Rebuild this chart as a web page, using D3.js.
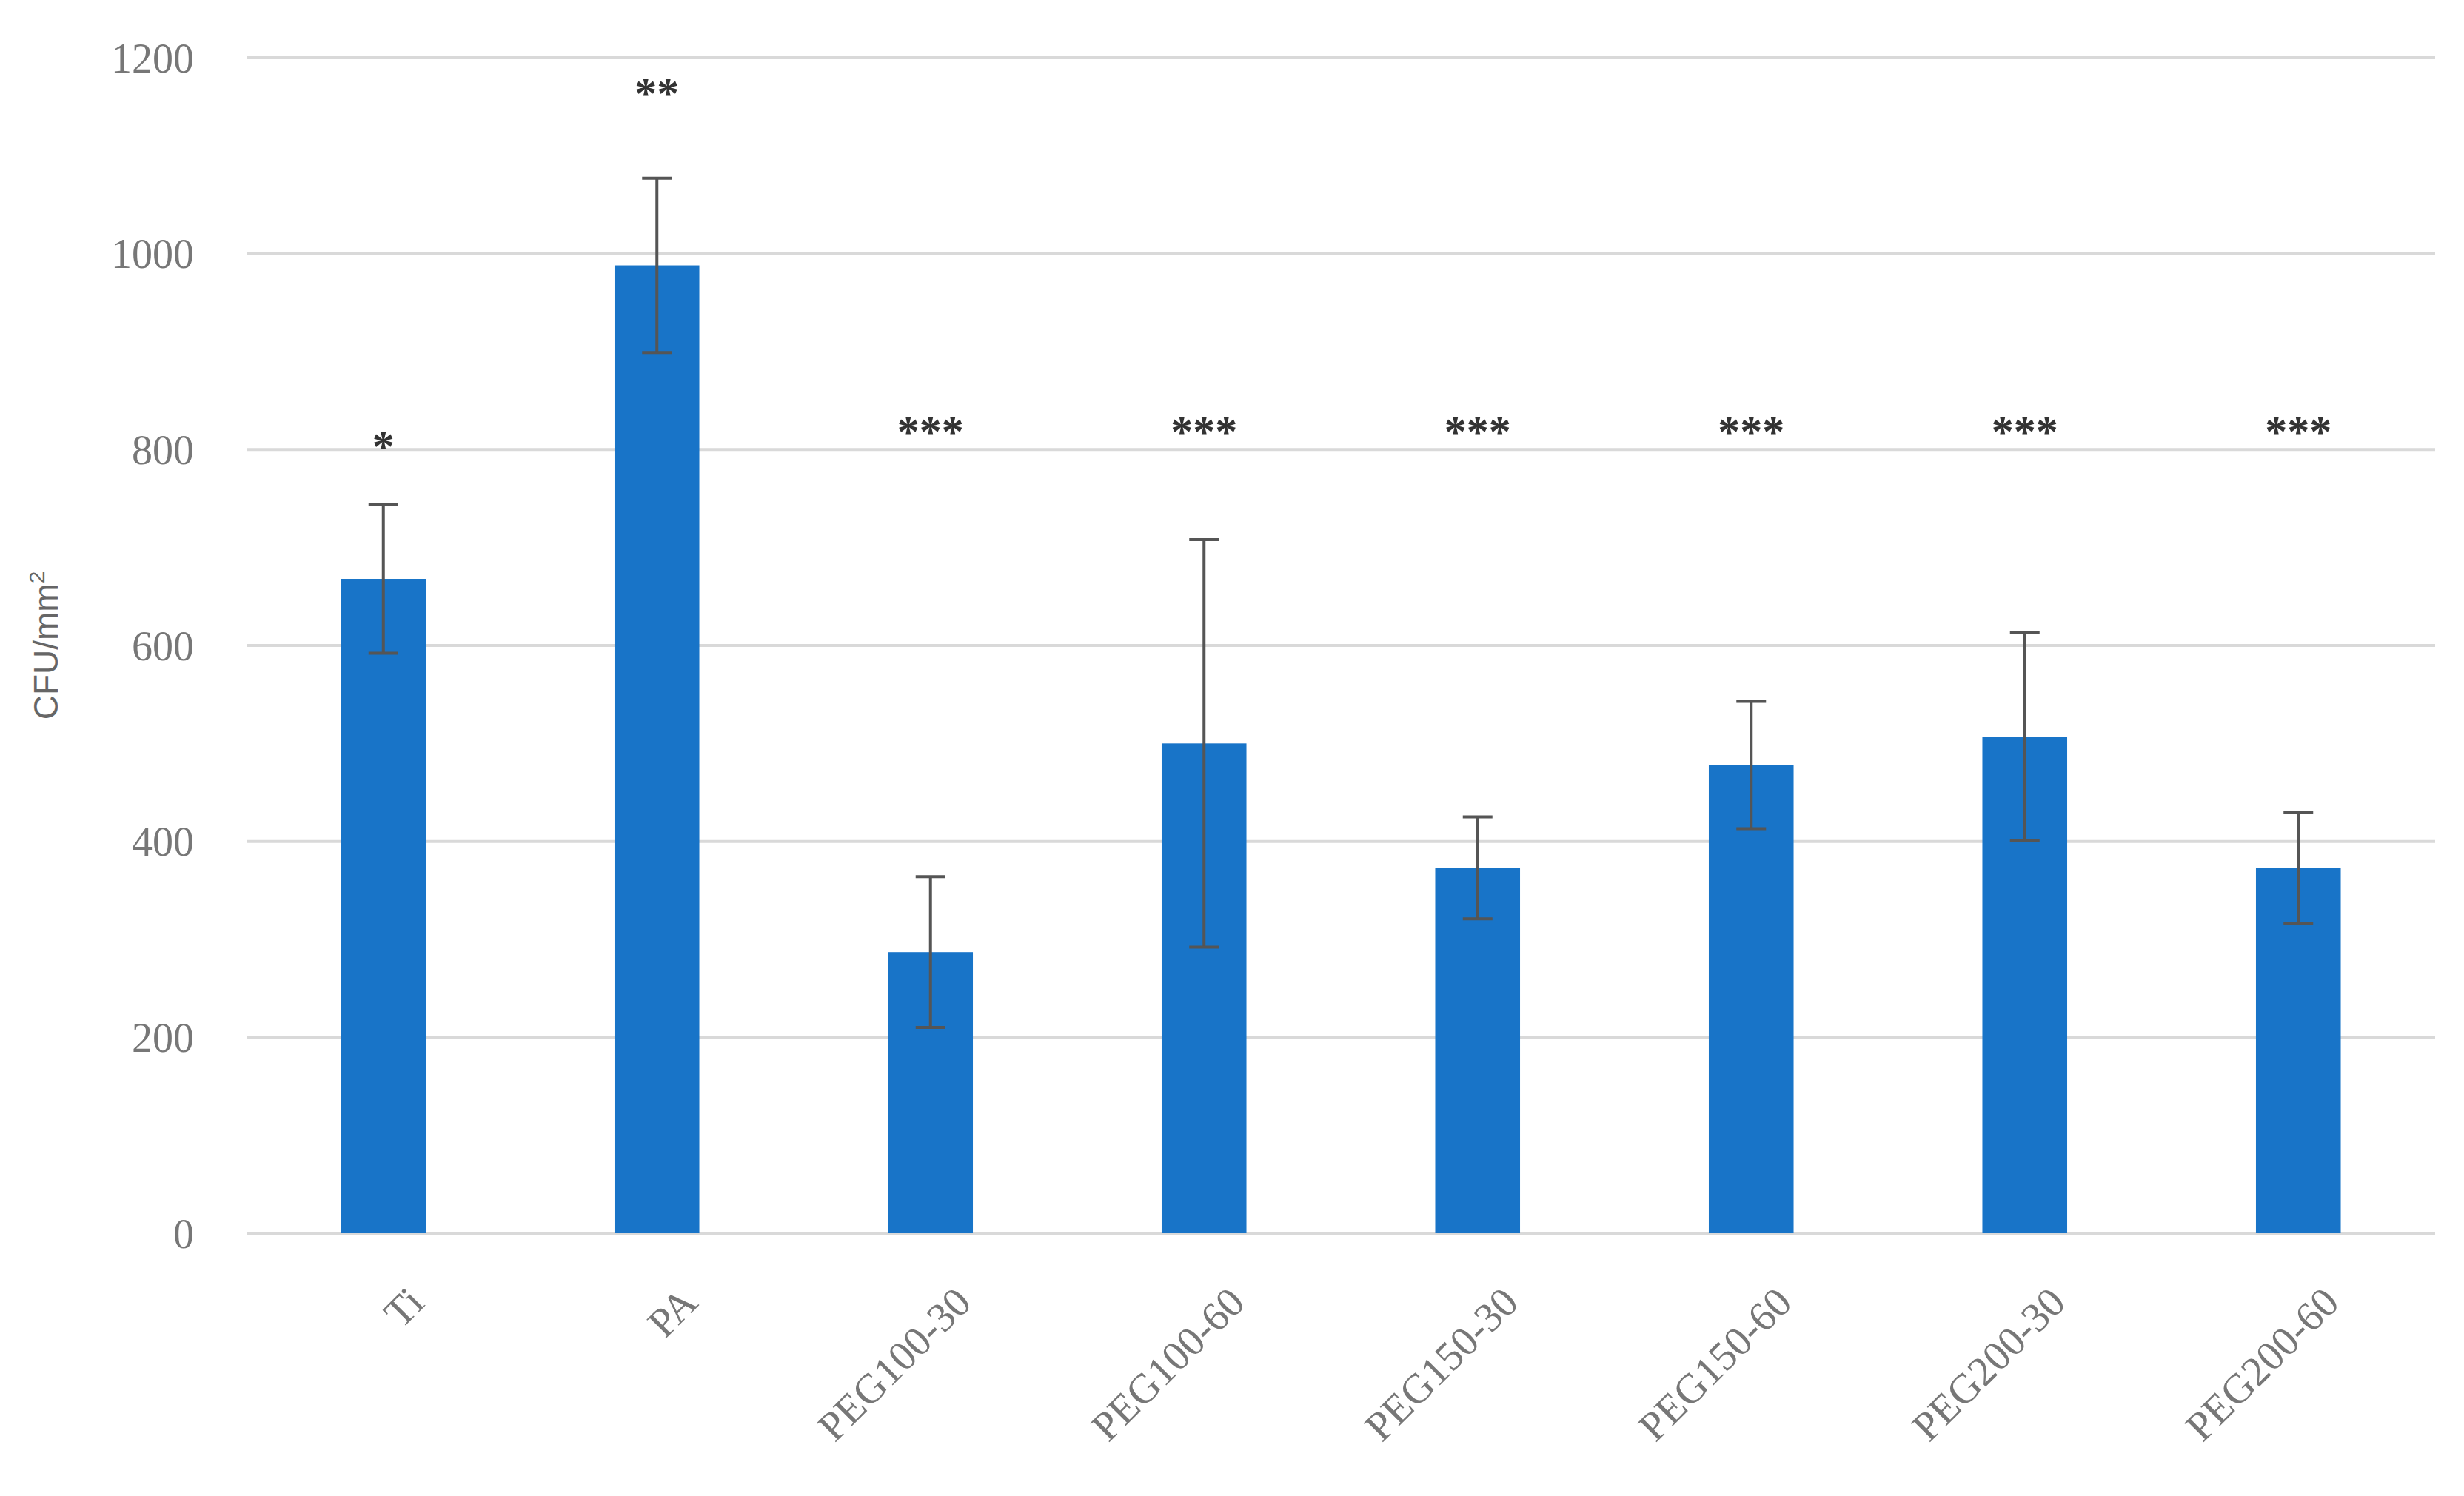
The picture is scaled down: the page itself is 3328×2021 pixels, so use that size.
<!DOCTYPE html>
<html><head><meta charset="utf-8">
<script src="https://cdn.jsdelivr.net/npm/d3@7"></script>
<style>body{margin:0;background:#fff}</style></head>
<body><svg id="c" width="3328" height="2021"></svg>
<script>
const categories=["Ti","PA","PEG100-30","PEG100-60","PEG150-30","PEG150-60","PEG200-30","PEG200-60"];
const values=[668,988,287,500,373,478,507,373];
const errors=[76,89,77,208,52,65,106,57];
const stars=["*","**","***","***","***","***","***","***"];
const starY=[820,1180,835,835,835,835,835,835];
const yTicks=[0,200,400,600,800,1000,1200];

const svg=d3.select("#c");
const x=d3.scaleBand().domain(categories).range([333,3289]).paddingInner(0.69).paddingOuter(0.345);
const y=d3.scaleLinear().domain([0,1200]).range([1666,78]);

svg.append("g").selectAll("line").data(yTicks).join("line")
 .attr("x1",333).attr("x2",3289).attr("y1",d=>y(d)).attr("y2",d=>y(d))
 .attr("stroke","#d9d9d9").attr("stroke-width",4);
svg.append("g").selectAll("text").data(yTicks).join("text")
 .attr("x",262).attr("y",d=>y(d)).attr("dy","0.35em").attr("text-anchor","end")
 .attr("font-family","Liberation Serif").attr("font-size",56).attr("fill","#777").text(d=>d);

svg.append("text").attr("transform",`translate(78,${y(600)}) rotate(-90)`).attr("text-anchor","middle")
 .attr("font-family","Liberation Sans").attr("font-size",46).attr("fill","#666")
 .html('CFU/mm<tspan dy="-18" font-size="30">2</tspan>');

svg.append("g").selectAll("rect").data(values).join("rect")
 .attr("x",(d,i)=>x(categories[i])).attr("width",x.bandwidth())
 .attr("y",d=>y(d)).attr("height",d=>y(0)-y(d)).attr("fill","#1874C8");

const eb=svg.append("g").attr("stroke","#555").attr("stroke-width",4);
values.forEach((v,i)=>{
 const cx=x(categories[i])+x.bandwidth()/2;
 eb.append("line").attr("x1",cx).attr("x2",cx).attr("y1",y(v+errors[i])).attr("y2",y(v-errors[i]));
 [v+errors[i],v-errors[i]].forEach(t=>eb.append("line").attr("x1",cx-20).attr("x2",cx+20).attr("y1",y(t)).attr("y2",y(t)));
});

svg.append("g").selectAll("text").data(stars).join("text")
 .attr("x",(d,i)=>x(categories[i])+x.bandwidth()/2).attr("y",(d,i)=>y(starY[i])).attr("dy","0.7em")
 .attr("text-anchor","middle").attr("font-family","Liberation Serif").attr("font-size",60).attr("font-weight","bold")
 .attr("fill","#333").text(d=>d);

svg.append("g").selectAll("text").data(categories).join("text")
 .attr("transform",d=>`translate(${x(d)+x.bandwidth()/2+30},1735) rotate(-45)`)
 .attr("text-anchor","end").attr("dy","0.7em")
 .attr("font-family","Liberation Serif").attr("font-size",56).attr("fill","#777").text(d=>d);
</script></body></html>
